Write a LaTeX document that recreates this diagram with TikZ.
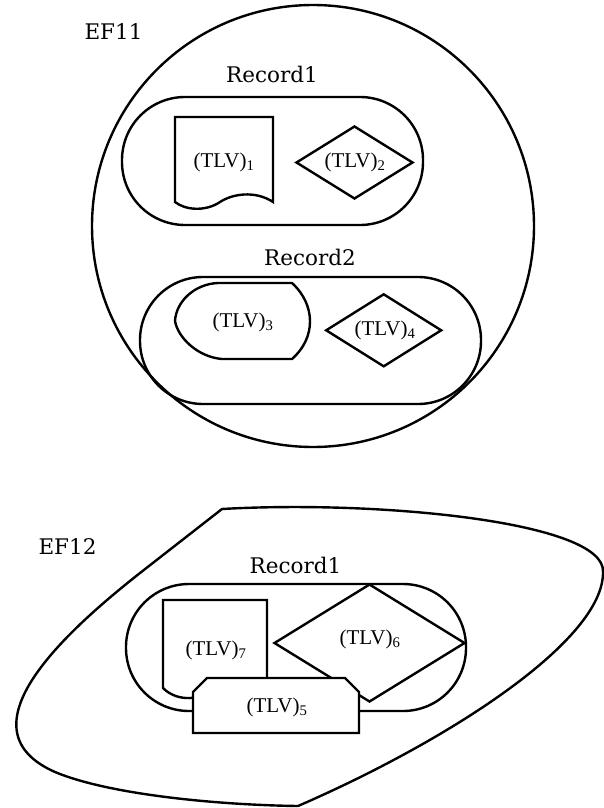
\documentclass[tikz,border=0pt]{standalone}
\usepackage{fontspec}
\setmainfont{Liberation Serif}
\newfontfamily\slab{DejaVu Serif}
\usetikzlibrary{shapes.geometric}
\begin{document}
\begin{tikzpicture}[x=1pt,y=-1pt,line width=2.4pt,
  rec/.style={draw, rectangle, rounded corners=63pt, inner sep=0pt},
  dia/.style={draw, diamond, inner sep=0pt},
  tlv/.style={inner sep=0pt, font=\fontsize{21}{25}\selectfont},
  lab/.style={inner sep=0pt, font=\slab\fontsize{21.5}{25}\selectfont}]
\useasboundingbox (0,0) rectangle (604,808);
% ---------- EF11 ----------
\node[draw, circle, minimum size=442pt, inner sep=0pt] (ef11) at (313,226) {};
\node[lab] (ef11l) at (113.5,32) {EF11};
\node[rec, minimum width=301pt, minimum height=128pt] (r11) at (272.5,161) {};
\node[lab] (r11l) at (272,74) {Record1};
% document TLV1
\draw (175,117) -- (273,117) -- (273,202)
  .. controls (255,190) and (232,194) .. (220,202)
  .. controls (205,212) and (185,210) .. (175,202) -- cycle;
\node[tlv] (t1) at (224,162) {(TLV)\textsubscript{1}};
\node[dia, minimum width=117pt, minimum height=73pt] (d2) at (354.5,162.5) {};
\node[tlv] (t2) at (355,162) {(TLV)\textsubscript{2}};
% Record2
\node[rec, minimum width=341pt, minimum height=127pt] (r12) at (310.5,340.5) {};
\node[lab] (r12l) at (310,257) {Record2};
\draw (218,283) -- (292,283) .. controls (316,305) and (316,338) .. (292,359)
  -- (222,359) .. controls (198,357) and (178,338) .. (175,321)
  .. controls (176,302) and (194,284) .. (218,283) -- cycle;
\node[tlv] (t3) at (243,322) {(TLV)\textsubscript{3}};
\node[dia, minimum width=116pt, minimum height=73pt] (d4) at (383.7,330.3) {};
\node[tlv] (t4) at (385,330) {(TLV)\textsubscript{4}};
% ---------- EF12 ----------
\draw (222,509) .. controls (380,500) and (606,522) .. (603,572)
  .. controls (604,640) and (450,740) .. (298,806)
  .. controls (220,805) and (110,795) .. (55,772)
  .. controls (-40,730) and (60,636) .. (140,573) -- cycle;
\node[lab] (ef12l) at (67.5,547) {EF12};
\node[rec, minimum width=340pt, minimum height=127pt] (r21) at (296,647.5) {};
\node[lab] (r21l) at (295.5,565) {Record1};
% document TLV7
\draw (163,600) -- (267,600) -- (267,700)
  .. controls (250,688) and (230,680) .. (215,690)
  .. controls (195,702) and (175,700) .. (163,688) -- cycle;
\node[tlv] (t7) at (216,650) {(TLV)\textsubscript{7}};
\node[dia, minimum width=191pt, minimum height=118pt] (d6) at (369.5,643) {};
\node[tlv] (t6) at (370,639) {(TLV)\textsubscript{6}};
% chamfered TLV5
\draw[fill=white] (193,733) -- (193,692) -- (207,678) -- (345,678) -- (359,692) -- (359,733) -- cycle;
\node[tlv] (t5) at (277,707) {(TLV)\textsubscript{5}};
\end{tikzpicture}
\end{document}
